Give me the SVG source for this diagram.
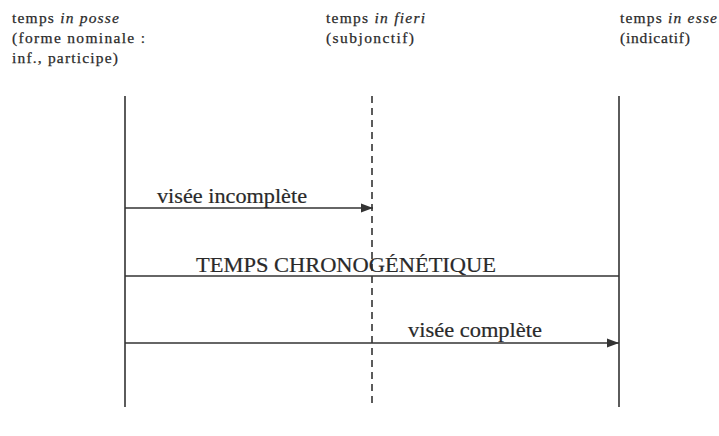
<svg xmlns="http://www.w3.org/2000/svg" width="719" height="436" viewBox="0 0 719 436">
<style>
.lab{font-family:"Liberation Serif",serif;font-size:15.5px;fill:#2a2a2a;stroke:#2a2a2a;stroke-width:0.25}
.it{font-style:italic}
.big{font-family:"Liberation Serif",serif;font-size:20px;fill:#2a2a2a;stroke:#2a2a2a;stroke-width:0.2}
.ln{stroke:#333;stroke-width:1.6;fill:none}
.dash{stroke:#333;stroke-width:1.6;stroke-dasharray:7 5;fill:none}
</style>
<defs>
<marker id="ah" markerWidth="12" markerHeight="10" refX="12" refY="5" orient="auto" markerUnits="userSpaceOnUse">
<path d="M0,0.5 L12,5 L0,9.5 Z" fill="#333"/>
</marker>
</defs>
<rect width="719" height="436" fill="#fff"/>
<g id="posse">
<text class="lab" x="12" y="23" textLength="107" lengthAdjust="spacing">temps <tspan class="it">in posse</tspan></text>
<text class="lab" x="12" y="43" textLength="133" lengthAdjust="spacing">(forme nominale :</text>
<text class="lab" x="12" y="63" textLength="106" lengthAdjust="spacing">inf., participe)</text>
<line class="ln" x1="125" y1="96" x2="125" y2="407"/>
</g>
<g id="fieri">
<text class="lab" x="326" y="23" textLength="99" lengthAdjust="spacing">temps <tspan class="it">in fieri</tspan></text>
<text class="lab" x="326" y="43" textLength="88" lengthAdjust="spacing">(subjonctif)</text>
<line class="dash" x1="372" y1="96" x2="372" y2="407"/>
</g>
<g id="esse">
<text class="lab" x="620" y="23" textLength="97" lengthAdjust="spacing">temps <tspan class="it">in esse</tspan></text>
<text class="lab" x="620" y="43" textLength="70" lengthAdjust="spacing">(indicatif)</text>
<line class="ln" x1="619" y1="96" x2="619" y2="407"/>
</g>
<g id="connectors">
<line class="ln" x1="125" y1="208" x2="373" y2="208" marker-end="url(#ah)"/>
<text class="big" x="157" y="203" textLength="150" lengthAdjust="spacingAndGlyphs">visée incomplète</text>
<line class="ln" x1="125" y1="276" x2="619" y2="276"/>
<text class="big" x="196" y="272" textLength="300" lengthAdjust="spacingAndGlyphs">TEMPS CHRONOGÉNÉTIQUE</text>
<line class="ln" x1="125" y1="343" x2="619" y2="343" marker-end="url(#ah)"/>
<text class="big" x="408" y="337" textLength="134" lengthAdjust="spacingAndGlyphs">visée complète</text>
</g>
</svg>
